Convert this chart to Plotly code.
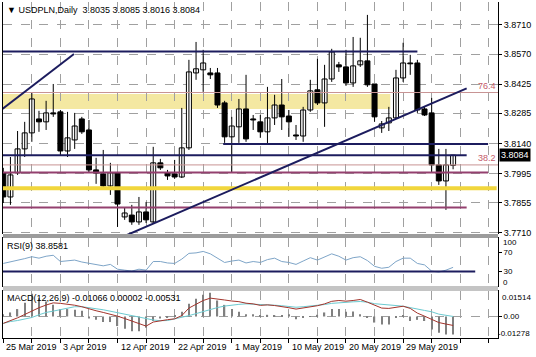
import plotly.graph_objects as go

# ---------------- data ----------------
bars = list(range(64))
opens = [3.7999, 3.7883, 3.7999, 3.8114, 3.8191, 3.8258, 3.8244, 3.8287, 3.8292, 3.8104,
         3.8157, 3.8258, 3.8205, 3.8013, 3.7994, 3.7936, 3.7999, 3.7787, 3.7796, 3.7763,
         3.7811, 3.7763, 3.8047, 3.7999, 3.7994, 3.7979, 3.8119, 3.8479, 3.8494, 3.8479,
         3.8479, 3.8335, 3.8172, 3.8220, 3.8306, 3.8258, 3.8244, 3.8196, 3.8263, 3.8325,
         3.8272, 3.8181, 3.8176, 3.8301, 3.8398, 3.8335, 3.8450, 3.8518, 3.8508, 3.8431,
         3.8518, 3.8537, 3.8426, 3.8215, 3.8239, 3.8263, 3.8455, 3.8527, 3.8527, 3.8306,
         3.8287, 3.8037, 3.7960, 3.8035]
highs = [3.8023, 3.8075, 3.8200, 3.8244, 3.8383, 3.8297, 3.8345, 3.8426, 3.8301, 3.8292,
         3.8287, 3.8268, 3.8253, 3.8071, 3.8109, 3.8047, 3.8003, 3.7830, 3.7845, 3.7883,
         3.7859, 3.8124, 3.8066, 3.8013, 3.8061, 3.8311, 3.8542, 3.8628, 3.8590, 3.8503,
         3.8503, 3.8345, 3.8268, 3.8354, 3.8470, 3.8277, 3.8277, 3.8412, 3.8374, 3.8450,
         3.8301, 3.8229, 3.8316, 3.8446, 3.8547, 3.8518, 3.8595, 3.8532, 3.8590, 3.8652,
         3.8648, 3.8758, 3.8426, 3.8248, 3.8316, 3.8494, 3.8624, 3.8566, 3.8542, 3.8316,
         3.8359, 3.8114, 3.8114, 3.8085]
lows = [3.7854, 3.7845, 3.7989, 3.8075, 3.8148, 3.8196, 3.8205, 3.8268, 3.8085, 3.8075,
        3.8114, 3.8186, 3.8003, 3.7946, 3.7931, 3.7893, 3.7739, 3.7773, 3.7749, 3.7749,
        3.7758, 3.7758, 3.8013, 3.7965, 3.7970, 3.7974, 3.8109, 3.8446, 3.8388, 3.8450,
        3.8311, 3.8143, 3.8003, 3.8143, 3.8148, 3.8205, 3.8167, 3.8133, 3.8229, 3.8205,
        3.8172, 3.8157, 3.8148, 3.8292, 3.8325, 3.8220, 3.8436, 3.8484, 3.8417, 3.8412,
        3.8508, 3.8412, 3.8244, 3.8191, 3.8200, 3.8258, 3.8436, 3.8470, 3.8287, 3.8272,
        3.8003, 3.7941, 3.7821, 3.8016]
closes = [3.7883, 3.7989, 3.8114, 3.8191, 3.8354, 3.8244, 3.8287, 3.8282, 3.8104, 3.8167,
          3.8224, 3.8196, 3.8013, 3.7999, 3.7936, 3.7999, 3.7849, 3.7806, 3.7763, 3.7811,
          3.7773, 3.8047, 3.8023, 3.7984, 3.7979, 3.8119, 3.8484, 3.8499, 3.8527, 3.8470,
          3.8325, 3.8172, 3.8224, 3.8306, 3.8162, 3.8253, 3.8196, 3.8263, 3.8325, 3.8268,
          3.8244, 3.8176, 3.8301, 3.8393, 3.8335, 3.8450, 3.8580, 3.8508, 3.8431, 3.8513,
          3.8537, 3.8422, 3.8268, 3.8234, 3.8263, 3.8455, 3.8527, 3.8523, 3.8301, 3.8277,
          3.8037, 3.7960, 3.8037, 3.8084]

rsi9 = [47, 50, 53, 57, 61, 58, 62, 64, 51, 53,
        54, 50, 47, 45, 42, 45, 35, 33, 31, 35,
        33, 51, 51, 48, 47, 56, 68, 69, 72, 67,
        58, 49, 52, 54, 48, 51, 49, 55, 58, 51,
        49, 45, 52, 59, 54, 60, 67, 62, 54, 59,
        61, 53, 41, 37, 39, 51, 58, 58, 47, 44,
        31, 29, 33, 38.8581]

macd_hist = [0.0014, 0.0024, 0.0044, 0.0081, 0.0135, 0.0109, 0.0089, 0.0069, 0.0044, 0.0044,
             0.0040, 0.0034, -0.0012, -0.0020, -0.0033, -0.0033, -0.0057, -0.0073, -0.0087, -0.0087,
             -0.0067, -0.0027, -0.0012, -0.0006, 0.0004, 0.0028, 0.0075, 0.0105, 0.0129, 0.0141,
             0.0095, 0.0069, 0.0044, 0.0028, 0.0014, 0.0014, 0.0008, 0.0010, 0.0006, 0.0004,
             0.0014, -0.0016, -0.0006, 0.0002, 0.0010, 0.0024, 0.0044, 0.0044, 0.0028, 0.0030,
             0.0014, -0.0004, -0.0036, -0.0047, -0.0047, -0.0004, 0.0004, -0.0027, -0.0020, -0.0027,
             -0.0077, -0.0097, -0.0107, -0.01066]
macd_red = [-0.0041, -0.0025, -0.0008, 0.0012, 0.0034, 0.0052, 0.0068, 0.0081, 0.0078, 0.0074,
            0.0067, 0.0058, 0.0044, 0.0034, 0.0024, 0.0014, 0.0002, -0.0012, -0.0028, -0.0041,
            -0.0057, -0.0033, -0.0025, -0.0019, -0.0014, 0.0005, 0.0050, 0.0075, 0.0095, 0.0109,
            0.0105, 0.0098, 0.0092, 0.0088, 0.0079, 0.0075, 0.0066, 0.0069, 0.0065, 0.0060,
            0.0052, 0.0044, 0.0050, 0.0055, 0.0064, 0.0075, 0.0090, 0.0095, 0.0091, 0.0095,
            0.0101, 0.0085, 0.0068, 0.0050, 0.0048, 0.0055, 0.0061, 0.0048, 0.0020, 0.0002,
            -0.0016, -0.0036, -0.0045, -0.00531]
macd_teal = [-0.0041, -0.0030, -0.0024, -0.0015, -0.0006, 0.0010, 0.0024, 0.0032, 0.0042, 0.0050,
             0.0058, 0.0058, 0.0050, 0.0046, 0.0040, 0.0032, 0.0023, 0.0015, 0.0008, 0.0000,
             -0.0012, -0.0021, -0.0025, -0.0024, -0.0015, -0.0008, 0.0005, 0.0017, 0.0030, 0.0043,
             0.0053, 0.0062, 0.0068, 0.0072, 0.0075, 0.0074, 0.0071, 0.0069, 0.0067, 0.0064,
             0.0060, 0.0055, 0.0058, 0.0061, 0.0066, 0.0071, 0.0078, 0.0082, 0.0085, 0.0087,
             0.0089, 0.0085, 0.0076, 0.0071, 0.0069, 0.0065, 0.0061, 0.0054, 0.0046, 0.0036,
             0.0028, 0.0014, 0.0007, 0.00002]

date_labels = ["25 Mar 2019", "3 Apr 2019", "12 Apr 2019", "22 Apr 2019",
               "1 May 2019", "10 May 2019", "20 May 2019", "29 May 2019"]
date_label_bars = [0, 8, 16, 24, 32, 40, 48, 56]
price_ticks = [3.8710, 3.8570, 3.8425, 3.8285, 3.8140, 3.7995, 3.7855, 3.7710]
rsi_ticks = [70, 30]

# drawn objects (price levels)
navy_top_level = 3.8582
navy_levels = [3.8138, 3.8083]
purple_levels = [3.8000, 3.7832]
yellow_line_level = 3.7925
yellow_band = [3.8306, 3.8378]
fib_levels = [3.8385, 3.8037]
fib_names = ["76.4", "38.2"]
trend1 = [3.8304, 3.8570]
trend2 = [3.7700, 3.8405]
rsi_level = 30
last_price = 3.8084

# ---------------- figure ----------------
XMIN, XMAX = -0.04, 69.29
PRICE_RANGE = [3.7705, 3.8820]
NAVY = "#1c1c5e"
PURPLE = "#94406f"
ROSY = "#c89494"
GRID = "#a0a0a0"
FONT = "Liberation Sans"

fig = go.Figure()

# wicks
wx, wy = [], []
for i, h, l in zip(bars, highs, lows):
    wx += [i, i, None]
    wy += [l, h, None]
fig.add_trace(go.Scatter(x=wx, y=wy, mode="lines", line=dict(color="black", width=1),
                         xaxis="x", yaxis="y", hoverinfo="skip"))

for bull in (True, False):
    xs, bases, hs = [], [], []
    for i, o, c in zip(bars, opens, closes):
        if (c >= o) == bull:
            xs.append(i)
            bases.append(min(o, c))
            hs.append(max(abs(c - o), 0.0003))
    fig.add_trace(go.Bar(x=xs, y=hs, base=bases, width=0.7,
                         marker=dict(color="white" if bull else "black",
                                     line=dict(color="black", width=1)),
                         xaxis="x", yaxis="y", hoverinfo="skip"))

# RSI
fig.add_trace(go.Scatter(x=bars, y=rsi9, mode="lines", line=dict(color="#7ea5c8", width=1),
                         xaxis="x2", yaxis="y2", hoverinfo="skip"))

# MACD
fig.add_trace(go.Bar(x=bars, y=macd_hist, width=0.18, marker=dict(color="#808080", line=dict(width=0)),
                     xaxis="x3", yaxis="y3", hoverinfo="skip"))
fig.add_trace(go.Scatter(x=bars, y=macd_teal, mode="lines", line=dict(color="#6ccad0", width=1),
                         xaxis="x3", yaxis="y3", hoverinfo="skip"))
fig.add_trace(go.Scatter(x=bars, y=macd_red, mode="lines", line=dict(color="#a3342c", width=1),
                         xaxis="x3", yaxis="y3", hoverinfo="skip"))

shapes = []
def hline(y, x0, x1, color, width, layer="above"):
    shapes.append(dict(type="line", xref="x", yref="y", x0=x0, x1=x1, y0=y, y1=y,
                       line=dict(color=color, width=width), layer=layer))

shapes.append(dict(type="rect", xref="x", yref="y", x0=XMIN, x1=54.2,
                   y0=yellow_band[0], y1=yellow_band[1], fillcolor="#f4e8a2",
                   line=dict(width=0), layer="below"))
hline(navy_top_level, XMIN, 58.0, NAVY, 2)
hline(fib_levels[0], XMIN, XMAX, ROSY, 1)
hline(fib_levels[1], XMIN, XMAX, ROSY, 1)
hline(navy_levels[0], 30.8, 67.9, NAVY, 2)
hline(navy_levels[1], XMIN, 64.9, NAVY, 2)
hline(purple_levels[0], XMIN, 67.9, PURPLE, 2)
hline(purple_levels[1], XMIN, 64.9, PURPLE, 2)
hline(yellow_line_level, XMIN, 69.1, "#f1d63c", 4)
shapes.append(dict(type="line", xref="x", yref="y", x0=-0.2, x1=9.9, y0=trend1[0], y1=trend1[1],
                   line=dict(color=NAVY, width=2), layer="above"))
shapes.append(dict(type="line", xref="x", yref="y", x0=17.3, x1=64.9, y0=trend2[0], y1=trend2[1],
                   line=dict(color=NAVY, width=2), layer="above"))
# RSI 30 level
shapes.append(dict(type="line", xref="x2", yref="y2", x0=XMIN, x1=66.1, y0=rsi_level, y1=rsi_level,
                   line=dict(color=NAVY, width=2), layer="above"))
# separators
H = 336.0
def py(page_y):
    return 1 - (page_y - 2) / H
shapes.append(dict(type="rect", xref="paper", yref="paper", x0=0, x1=1, y0=py(238), y1=py(234),
                   fillcolor="#9c9c9c", line=dict(width=0), layer="above"))
shapes.append(dict(type="rect", xref="paper", yref="paper", x0=0, x1=1, y0=py(291), y1=py(286),
                   fillcolor="#c4c4c4", line=dict(width=0), layer="above"))

annotations = []
annotations.append(dict(xref="paper", yref="paper", x=0.004, y=py(10), xanchor="left", yanchor="middle",
                        text="▼ USDPLN,Daily  3.8035 3.8085 3.8016 3.8084", showarrow=False,
                        font=dict(family=FONT, size=9, color="black")))
for lvl, name in zip(fib_levels, fib_names):
    annotations.append(dict(xref="paper", yref="y", x=0.999, y=lvl, xanchor="right", yanchor="bottom",
                            text=name, showarrow=False, font=dict(family=FONT, size=9, color="#c45a6a")))
annotations.append(dict(xref="paper", yref="y", x=1, y=last_price, xanchor="left", yanchor="middle",
                        xshift=1, text="3.8084", showarrow=False, bgcolor="black", borderpad=1,
                        font=dict(family=FONT, size=9, color="white")))
annotations.append(dict(xref="paper", yref="paper", x=0.004, y=py(246), xanchor="left", yanchor="middle",
                        text="RSI(9) 38.8581", showarrow=False, font=dict(family=FONT, size=9, color="black")))
annotations.append(dict(xref="paper", yref="paper", x=0.004, y=py(298), xanchor="left", yanchor="middle",
                        text="MACD(12,26,9) -0.01066 0.00002 -0.00531", showarrow=False,
                        font=dict(family=FONT, size=9, color="black")))
for txt, pyv, shift in [("100", 242.5, 3), ("0", 282.5, 3),
                        ("0.01514", 297, 2), ("-0.01278", 333, -2)]:
    annotations.append(dict(xref="paper", yref="paper", x=1, y=py(pyv), xanchor="left", yanchor="middle",
                            xshift=shift, text=txt, showarrow=False,
                            font=dict(family=FONT, size=8, color="black")))
for lab, b in zip(date_labels, date_label_bars):
    annotations.append(dict(xref="x3", yref="paper", x=b, y=py(347), xanchor="left", yanchor="middle",
                            xshift=1, text=lab, showarrow=False, font=dict(family=FONT, size=9, color="black")))

xcommon = dict(range=[XMIN, XMAX], showticklabels=False, zeroline=False,
               showgrid=True, gridcolor=GRID, griddash="dash", gridwidth=1,
               tick0=0, dtick=4, fixedrange=True)

fig.update_layout(
    width=536, height=357, margin=dict(l=3, r=38, t=2, b=19),
    paper_bgcolor="white", plot_bgcolor="white", showlegend=False, barmode="overlay",
    font=dict(family=FONT, size=9, color="black"),
    xaxis=dict(**xcommon, anchor="y", showline=False),
    xaxis2=dict(**xcommon, anchor="y2", matches="x", showline=True, mirror=True, linecolor="black", linewidth=1),
    xaxis3=dict(**xcommon, anchor="y3", matches="x", showline=True, mirror=True, linecolor="black", linewidth=1,
                ticks="outside", ticklen=4, tickcolor="black"),
    yaxis=dict(domain=[py(234), 1], range=PRICE_RANGE, side="right", anchor="x",
               tickvals=price_ticks, ticktext=[f"{v:.4f}" for v in price_ticks],
               ticks="outside", ticklen=3, tickcolor="black",
               showgrid=True, gridcolor=GRID, griddash="dash", zeroline=False,
               showline=True, mirror=True, linecolor="black", linewidth=1,
               tickfont=dict(family=FONT, size=9, color="black")),
    yaxis2=dict(domain=[py(286), py(238)], range=[0, 100], side="right", anchor="x2",
                tickvals=rsi_ticks, ticktext=[str(v) for v in rsi_ticks],
                ticks="outside", ticklen=3, tickcolor="black",
                showgrid=False, zeroline=False,
                showline=True, mirror=True, linecolor="black", linewidth=1,
                tickfont=dict(family=FONT, size=8, color="black")),
    yaxis3=dict(domain=[0, py(291)], range=[-0.01278, 0.01514], side="right", anchor="x3",
                tickvals=[0], ticktext=["0.00"], ticks="outside", ticklen=3, tickcolor="black",
                showgrid=True, gridcolor=GRID, griddash="dash", zeroline=False,
                showline=True, mirror=True, linecolor="black", linewidth=1,
                tickfont=dict(family=FONT, size=8, color="black")),
    shapes=shapes, annotations=annotations,
)

fig.write_html("out.html", config={"displayModeBar": False},
               post_script="document.body.style.margin='0';document.body.style.overflow='hidden';")
